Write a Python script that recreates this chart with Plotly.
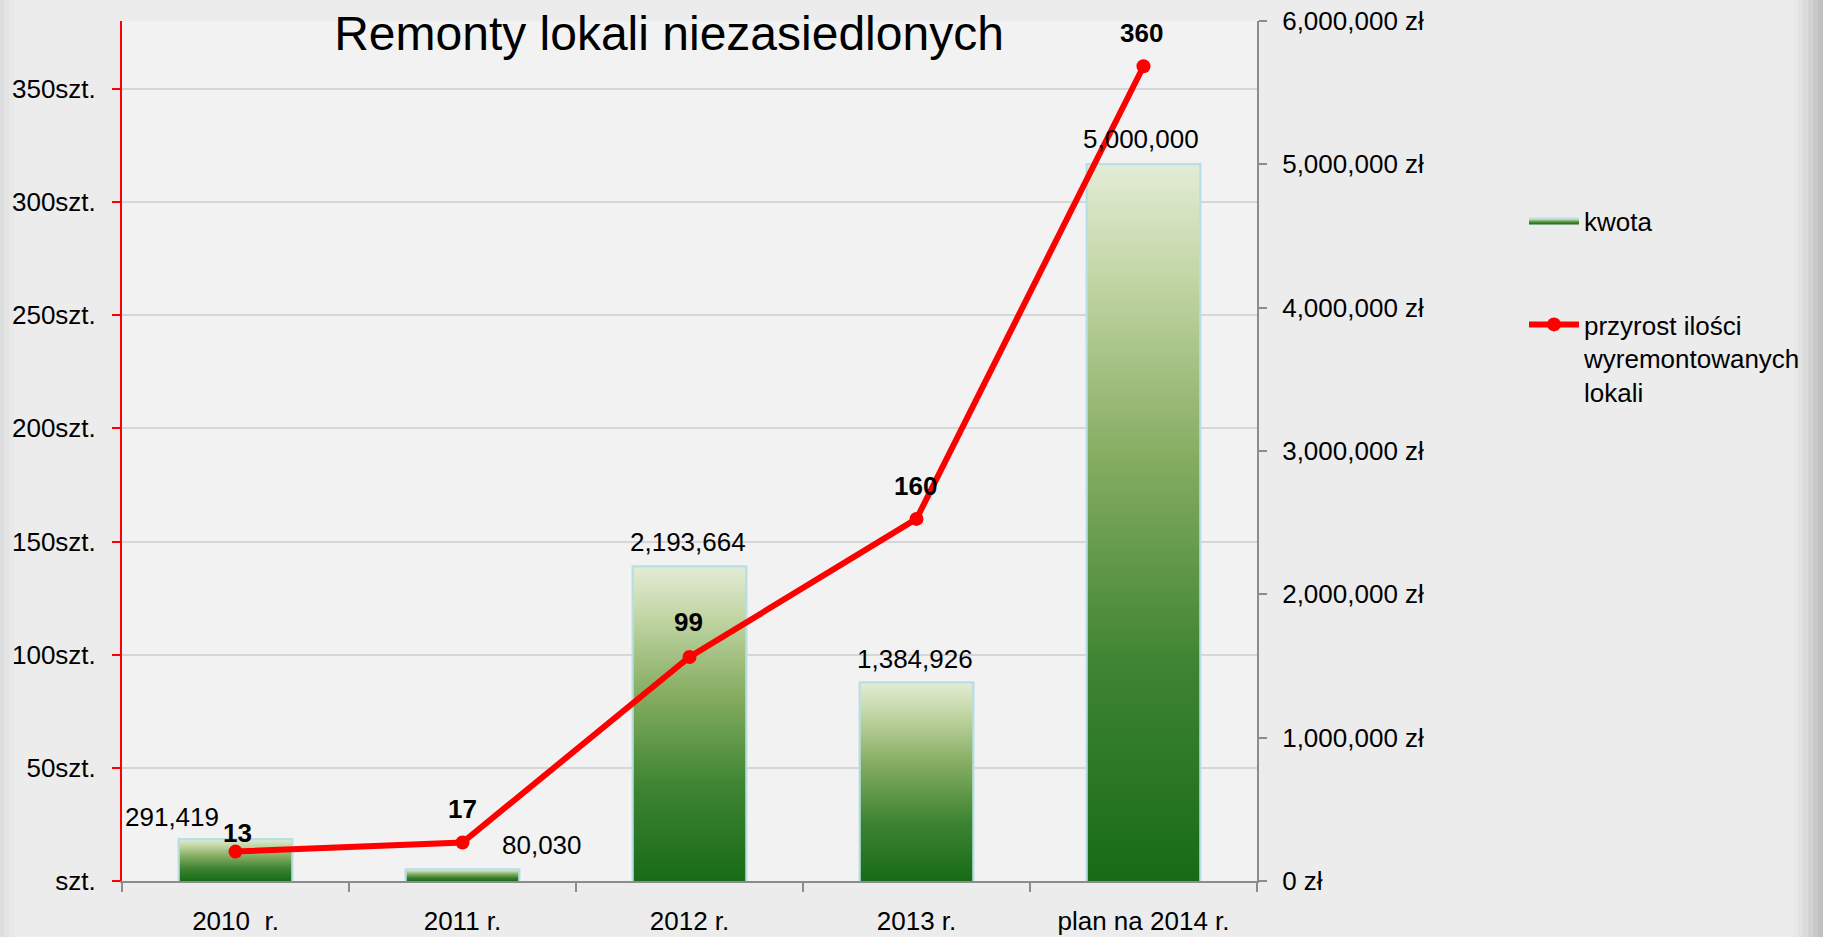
import plotly.graph_objects as go

# ---- data ----
categories = ["2010\u00a0 r.", "2011 r.", "2012 r.", "2013 r.", "plan na 2014 r."]
kwota = [291419, 80030, 2193664, 1384926, 5000000]
przyrost = [13, 17, 99, 160, 360]
count_ticks = [0, 50, 100, 150, 200, 250, 300, 350]
count_ticktext = ["szt.", "50szt.", "100szt.", "150szt.", "200szt.", "250szt.", "300szt.", "350szt."]
money_ticks = [0, 1000000, 2000000, 3000000, 4000000, 5000000, 6000000]
money_ticktext = ["0 zł", "1,000,000 zł", "2,000,000 zł", "3,000,000 zł",
                  "4,000,000 zł", "5,000,000 zł", "6,000,000 zł"]

title_text = "Remonty lokali niezasiedlonych"
bar_name = "kwota"
line_name = "przyrost ilości<br>wyremontowanych<br>lokali"

FONT = "Liberation Sans, Arial, sans-serif"
xs = list(range(len(categories)))
half = 0.25
grad = [[0.0, "#176b17"], [0.3, "#3e8432"], [0.6, "#87ae63"], [0.85, "#c4d7a7"], [1.0, "#e3ecd6"]]
outline = "#b7dfe3"

fig = go.Figure()

# bars (data holder and outline)
fig.add_trace(go.Bar(
    x=xs, y=kwota, width=2 * half, name=bar_name, yaxis="y",
    marker=dict(color="#5e9a48", line=dict(color=outline, width=2)),
    showlegend=False, hoverinfo="x+y",
))

# gradient fill drawn over each bar from the same values
for k, (i, v) in enumerate(zip(xs, kwota)):
    fig.add_trace(go.Scatter(
        x=[i - half, i - half, i + half, i + half],
        y=[0, v, v, 0],
        fill="toself", mode="lines", name=bar_name,
        fillgradient=dict(type="vertical", colorscale=grad),
        line=dict(color=outline, width=2),
        showlegend=(k == 0), legend="legend", legendgroup="kwota",
        hoverinfo="skip", yaxis="y",
    ))

# line on the count axis
fig.add_trace(go.Scatter(
    x=xs, y=przyrost, yaxis="y2", mode="lines+markers", name=line_name,
    line=dict(color="#ff0000", width=6),
    marker=dict(color="#ff0000", size=14),
    legend="legend2",
))

annotations = []
bar_dx = [-64, 79, -2, -2, -3]
bar_dy = [22, 25, 25, 23, 25]
for i, v, dx, dy in zip(xs, kwota, bar_dx, bar_dy):
    annotations.append(dict(
        x=i, y=v, xref="x", yref="y", text=f"{v:,}", showarrow=False,
        xshift=dx, yshift=dy, yanchor="middle", xanchor="center",
        font=dict(family=FONT, size=26, color="#000000"),
    ))
line_dx = [2, 0, -1, -1, -2]
line_dy = [19, 34, 35, 33, 33]
for i, v, dx, dy in zip(xs, przyrost, line_dx, line_dy):
    annotations.append(dict(
        x=i, y=v, xref="x", yref="y2", text=f"<b>{v}</b>", showarrow=False,
        xshift=dx, yshift=dy, yanchor="middle", xanchor="center",
        font=dict(family=FONT, size=26, color="#000000"),
    ))

# soft darker bands at the page edges (decoration)
PW = 1135.0
PH = 860.0
shapes = []
right_cols = ["#e8e8e8", "#e2e2e2", "#dadada", "#d2d2d2", "#c9c9c9", "#c0c0c0"]
for k, c in enumerate(right_cols):
    x0 = 1793 + k * 5
    shapes.append(dict(type="rect", xref="paper", yref="paper",
                       x0=(x0 - 122) / PW, x1=(1823 - 122) / PW + 0.01,
                       y0=-60 / PH, y1=1 + 25 / PH,
                       fillcolor=c, line=dict(width=0), layer="below"))
left_cols = ["#e8e8e8", "#e3e3e3", "#dddddd"]
for k, c in enumerate(left_cols):
    x1 = 14 - k * 5
    shapes.append(dict(type="rect", xref="paper", yref="paper",
                       x0=-0.2, x1=(x1 - 122) / PW,
                       y0=-60 / PH, y1=1 + 25 / PH,
                       fillcolor=c, line=dict(width=0), layer="below"))

fig.update_layout(
    template="plotly",
    width=1823, height=937,
    margin=dict(l=122, r=566, t=21, b=56, pad=0, autoexpand=False),
    paper_bgcolor="#ececec", plot_bgcolor="#f2f2f2",
    font=dict(family=FONT, size=26, color="#000000"),
    title=dict(text=title_text, x=669 / 1823, xref="container", xanchor="center",
               y=1 - 33 / 937, yref="container", yanchor="middle",
               font=dict(family=FONT, size=48, color="#000000")),
    barmode="overlay",
    xaxis=dict(
        range=[-0.5, 4.5], tickmode="array", tickvals=xs, ticktext=categories,
        ticks="", showgrid=False, zeroline=False, automargin=False,
        showline=True, linecolor="#8c8c8c", linewidth=2,
        minor=dict(tick0=-0.5, dtick=1, ticks="outside", ticklen=9, tickwidth=2,
                   tickcolor="#8c8c8c", showgrid=False),
        tickfont=dict(family=FONT, size=26), ticklabelstandoff=16,
    ),
    yaxis=dict(
        side="right", range=[0, 6000000], tickmode="array", tickvals=money_ticks,
        ticktext=money_ticktext, showgrid=False, zeroline=False, automargin=False,
        showline=True, linecolor="#8c8c8c", linewidth=2,
        ticks="outside", ticklen=8, tickwidth=2, tickcolor="#8c8c8c",
        tickfont=dict(family=FONT, size=26), ticklabelstandoff=10,
    ),
    yaxis2=dict(
        overlaying="y", side="left", range=[0, 380], tickmode="array",
        tickvals=count_ticks, ticktext=count_ticktext, automargin=False,
        showgrid=True, gridcolor="#d6d6d6", gridwidth=2, zeroline=False,
        showline=True, linecolor="#ff0000", linewidth=2,
        ticks="outside", ticklen=8, tickwidth=2, tickcolor="#ff0000",
        tickfont=dict(family=FONT, size=26), ticklabelstandoff=11,
    ),
    legend=dict(x=(1524 - 122) / PW, y=1 - (197 - 21) / PH, xanchor="left", yanchor="top",
                bgcolor="rgba(0,0,0,0)", font=dict(family=FONT, size=26), itemwidth=50),
    legend2=dict(x=(1524 - 122) / PW, y=1 - (301 - 21) / PH, xanchor="left", yanchor="top",
                 bgcolor="rgba(0,0,0,0)", font=dict(family=FONT, size=26), itemwidth=50,
                 valign="top"),
    annotations=annotations,
    shapes=shapes,
    showlegend=True,
)

fig.write_html("out.html", config={"displayModeBar": False},
               post_script="document.body.style.margin='0';document.body.style.overflow='hidden';")
